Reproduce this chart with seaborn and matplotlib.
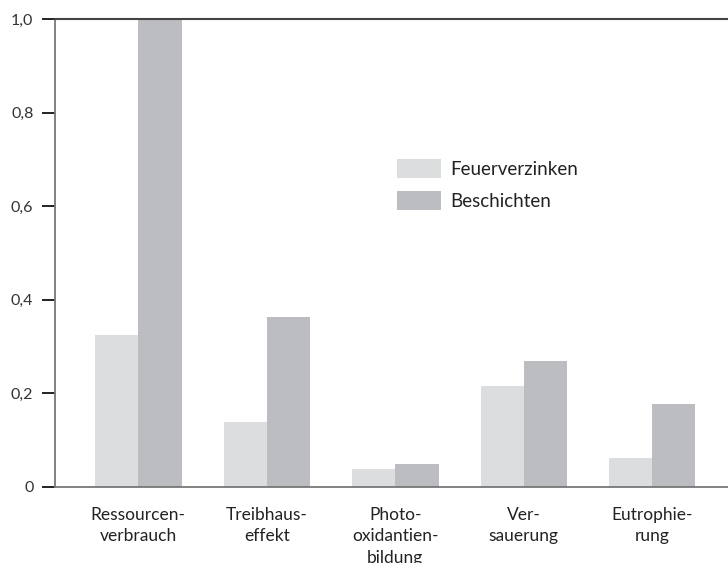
import matplotlib
matplotlib.use("Agg")
import matplotlib.pyplot as plt
import seaborn as sns
import pandas as pd
from matplotlib.patches import Patch

categories = ["Ressourcen-\nverbrauch", "Treibhaus-\neffekt", "Photo-\noxidantien-\nbildung",
              "Ver-\nsauerung", "Eutrophie-\nrung"]
series_names = ["Feuerverzinken", "Beschichten"]
feuerverzinken = [0.324, 0.138, 0.037, 0.215, 0.061]
beschichten = [1.0, 0.363, 0.048, 0.269, 0.177]
ytick_values = [0, 0.2, 0.4, 0.6, 0.8, 1.0]
ytick_labels = ["0", "0,2", "0,4", "0,6", "0,8", "1,0"]
colors = ["#dcdddf", "#bcbdc1"]

df = pd.DataFrame({
    "Kategorie": categories * 2,
    "Verfahren": [series_names[0]] * 5 + [series_names[1]] * 5,
    "Wert": feuerverzinken + beschichten,
})

sns.set_style("ticks")
plt.rcParams["font.family"] = ["Lato", "DejaVu Sans"]

fig = plt.figure(figsize=(7.28, 5.63), dpi=100)
ax = fig.add_axes([55 / 728, 1 - 486.5 / 563, 1 - 55 / 728 + 0.01, (486.5 - 19.3) / 563])

sns.barplot(data=df, x="Kategorie", y="Wert", hue="Verfahren", order=categories,
            hue_order=series_names, palette=colors, width=0.673, gap=0,
            saturation=1, linewidth=0, ax=ax, legend=False)

ax.set_xlim(-0.649, 4.574 + 0.01 * 7.28 / 1.0)
ax.set_ylim(0, 1.0)
ax.set_xlabel("")
ax.set_ylabel("")
ax.set_yticks(ytick_values)
ax.set_yticklabels(ytick_labels, fontsize=11.5, color="#333333")
ax.tick_params(axis="y", which="major", left=True, length=9.5, width=1.4, color="#222222", pad=6)
ax.tick_params(axis="x", which="major", bottom=False, length=0, pad=14.5)
for lbl in ax.get_xticklabels():
    lbl.set_fontsize(12.5)
    lbl.set_color("#222222")
    lbl.set_linespacing(1.45)
    lbl.set_verticalalignment("top")

for side in ["left", "bottom"]:
    ax.spines[side].set_color("#777777")
    ax.spines[side].set_linewidth(1.3)
ax.spines["top"].set_visible(True)
ax.spines["top"].set_color("#444444")
ax.spines["top"].set_linewidth(1.5)
ax.spines["right"].set_visible(False)
ax.grid(False)

handles = [Patch(facecolor=colors[0], edgecolor="none"), Patch(facecolor=colors[1], edgecolor="none")]
leg = fig.legend(handles, series_names, loc="upper left", bbox_to_anchor=(397 / 728, 1 - 159 / 563),
                 frameon=False, fontsize=13.5,
                 handlelength=2.35, handleheight=1.17, handletextpad=0.48, labelspacing=0.72,
                 borderaxespad=0, borderpad=0)
for t in leg.get_texts():
    t.set_color("#222222")

fig.savefig("out.png", dpi=100)
